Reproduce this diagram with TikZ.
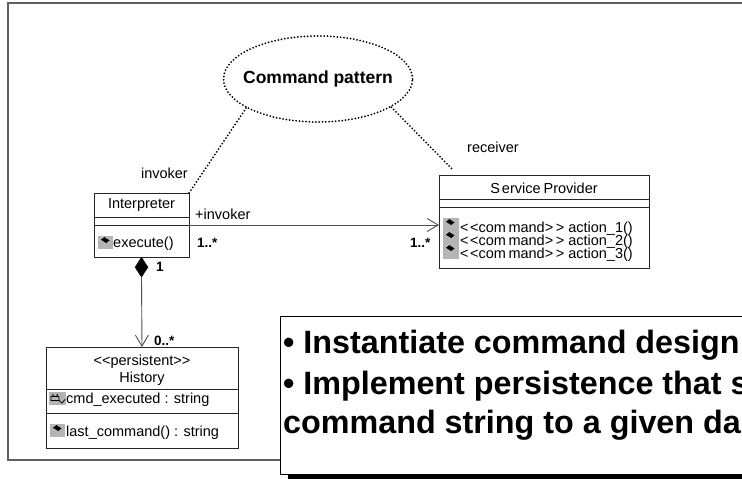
\documentclass[tikz,border=0pt]{standalone}
\usepackage{fontspec}
\setmainfont{Liberation Sans}
\usetikzlibrary{shapes.geometric,arrows.meta}
\definecolor{framegray}{HTML}{606060}
\definecolor{icongray}{HTML}{B4B4B4}
\definecolor{linegray}{HTML}{505050}
\newcommand{\lt}{{<}}
\newcommand{\gtr}{{>}}
\newcommand{\cmdst}{\lt\kern1.5pt\lt com\kern2.5pt mand\gtr\kern2.5pt\gtr}
\tikzset{
  umlbox/.style={draw=black!85, fill=white, line width=1pt, anchor=north west,
                 inner sep=0pt, outer sep=0pt},
  divider/.style={draw=black!85, line width=1pt},
  lbl/.style={font=\fontsize{14.5}{16}\selectfont, inner sep=0pt},
  mlbl/.style={font=\fontsize{14.5}{16}\selectfont, inner sep=0pt, anchor=base west},
  mult/.style={font=\bfseries\fontsize{13.5}{15}\selectfont, inner sep=0pt},
  dotline/.style={line width=2pt, line cap=round, dash pattern=on 0pt off 3.3pt, black},
  assoc/.style={draw=linegray, line width=0.9pt},
  openhead/.style={-{Straight Barb[length=11pt,width=13pt,line width=0.9pt]}},
  bigtext/.style={font=\bfseries\fontsize{32.3}{35}\selectfont, inner sep=0pt, anchor=base west},
  opicon/.pic={
    \fill[icongray] (0,0) rectangle (15,13);
    \fill[black] (2.5,3.4) -- (5.8,0.8) -- (11.5,4.4) -- (8.2,7) -- cycle;
    \draw[white, line width=0.5pt] (2.5,3.4) -- (5.8,0.8);
  },
  atticon/.pic={
    \fill[icongray] (0,0) rectangle (17,13);
    \draw[black, line width=0.8pt] (3.5,2) arc[start angle=180, end angle=0, radius=2.6]
         (2,4.5) rectangle (10,8.5);
    \draw[black, line width=0.8pt] (10,8.5) -- (13,11) -- (16,7.5);
  }
}
\begin{document}
\begin{tikzpicture}[x=1pt, y=-1pt]
  \clip (0,0) rectangle (742,479);
  \fill[white] (0,0) rectangle (742,479);

  % outer frame of the diagram page
  \draw[framegray, line width=1.2pt] (760,3) -- (8,3) -- (8,460) -- (300,460);

  % the pattern collaboration
  \node[ellipse, draw, dotline, minimum width=189pt, minimum height=86pt,
        inner sep=0pt] (pat) at (318,79) {};
  \node[font=\bfseries\fontsize{17.5}{19}\selectfont, inner sep=0pt] (patname) at (pat.center) {Command pattern};

  % Interpreter class
  \node[umlbox, minimum width=95pt, minimum height=64pt] (interp) at (94,193) {};
  \draw[divider] (94,217) -- (189,217);
  \draw[divider] (94,225) -- (189,225);
  \node[lbl] (interpname) at (141.5,205.5) {Interpreter};
  \pic at (98,236) {opicon};
  \node[lbl, anchor=base west] (exec) at (113,247) {execute()};

  % ServiceProvider class
  \node[umlbox, minimum width=210pt, minimum height=93pt] (sp) at (439,175) {};
  \draw[divider] (439,199) -- (649,199);
  \draw[divider] (439,207) -- (649,207);
  \node[lbl] (spname) at (544,188) {S\kern2pt ervice\kern3pt Provider};
  \fill[icongray] (443,218) rectangle (459,259);
  \pic at (443,218) {opicon};
  \pic at (443,231) {opicon};
  \pic at (443,244) {opicon};
  \node[mlbl] (act1) at (460,232) {\cmdst\ action\_1()};
  \node[mlbl] (act2) at (460,245) {\cmdst\ action\_2()};
  \node[mlbl] (act3) at (460,258) {\cmdst\ action\_3()};

  % History class
  \node[umlbox, minimum width=192pt, minimum height=101pt] (hist) at (46,347) {};
  \draw[divider] (46,389) -- (238,389);
  \draw[divider] (46,413) -- (238,413);
  \node[lbl] (stereo) at (142,362) {\lt\lt persistent\gtr\gtr};
  \node[lbl] (histname) at (142,379) {History};
  \pic at (49,392) {atticon};
  \node[lbl, anchor=base west] (attr) at (66,403) {cmd\_executed : string};
  \pic at (50,424) {opicon};
  \node[lbl, anchor=base west] (lastcmd) at (66,436) {last\_command() : string};

  % role ends of the collaboration
  \coordinate (recv) at (453,170);
  \draw[dotline] (pat.202) -- (interp.north east);
  \draw[dotline] (pat.339) -- (recv);
  \node[lbl, anchor=base east] (invrole) at (188,178) {invoker};
  \node[lbl, anchor=base west] (recvrole) at (467,152) {receiver};

  % association Interpreter -> ServiceProvider
  \draw[assoc, openhead] (interp.east) -- (sp.west |- interp.east);
  \node[lbl, anchor=base west] (invname) at (195,219) {+invoker};
  \node[mult, anchor=base west] (m1) at (197,247) {1..*};
  \node[mult, anchor=base west] (m2) at (410,247) {1..*};

  % composition Interpreter <>-> History
  \node[diamond, fill=black, draw=black, aspect=0.7, minimum width=13pt, minimum height=20pt,
        inner sep=0pt, anchor=north] (comp) at (interp.south) {};
  \draw[assoc, openhead] (comp.south) -- (hist.north);
  \node[mult, anchor=base west] (m3) at (156,271) {1};
  \node[mult, anchor=base west] (m4) at (154,345) {0..*};

  % note box with shadow
  \fill[black] (288,321) rectangle (760,479);
  \node[draw=black, fill=white, line width=1pt, anchor=north west, minimum width=480pt,
        minimum height=158pt, inner sep=0pt] (note) at (280,316) {};
  \node[bigtext] (line1) at (283,353) {• Instantiate command design};
  \node[bigtext] (line2) at (283,394) {• Implement persistence that s};
  \node[bigtext] (line3) at (283,433) {command string to a given da};
\end{tikzpicture}
\end{document}
